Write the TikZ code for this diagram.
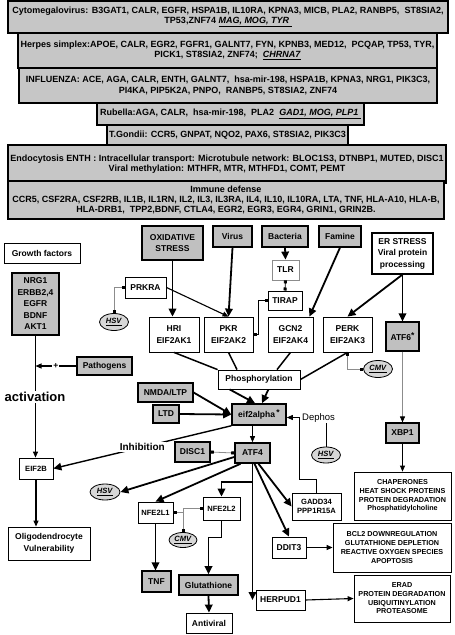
\documentclass[tikz,border=0pt]{standalone}
\usepackage{fontspec}
\setmainfont{Liberation Sans}
\usetikzlibrary{arrows.meta,shapes.geometric,calc}
\definecolor{topgray}{RGB}{198,198,198}
\definecolor{boxgray}{RGB}{192,192,192}
\definecolor{ellgray}{RGB}{215,215,215}
\definecolor{lgray}{RGB}{140,140,140}
\newcommand\ftop{\fontsize{9}{10.4}\selectfont\bfseries}
\newcommand\fmain{\fontsize{8.5}{11.5}\selectfont\bfseries}
\newcommand\fsmall{\fontsize{7.6}{9.5}\selectfont\bfseries}
\newcommand\flist{\fontsize{7.2}{8.7}\selectfont\bfseries}
\newcommand\uit[1]{\underline{\textit{#1}}}
\begin{document}
\begin{tikzpicture}[x=1pt,y=-1pt,
  topbox/.style={draw=black,line width=1.3pt,fill=topgray,align=center,inner sep=0pt,font=\ftop},
  gbox/.style={draw=black,line width=1pt,fill=boxgray,align=center,inner sep=0pt,font=\fmain},
  gboxb/.style={gbox,line width=1.2pt},
  gboxk/.style={gbox,line width=1.6pt},
  wbox/.style={draw=black,line width=0.8pt,fill=white,align=center,inner sep=0pt,font=\fmain},
  ell/.style={ellipse,draw=black,line width=0.8pt,fill=ellgray,inner sep=0pt,font=\fsmall},
  sz/.style 2 args={minimum width=#1pt,minimum height=#2pt},
  tarr/.style={line width=1.8pt,-{Triangle[length=8pt,width=7.5pt]}},
  narr/.style={line width=1.1pt,-{Triangle[length=6pt,width=5pt]}},
  garr/.style={line width=0.9pt,draw=lgray,-{Triangle[length=6pt,width=5pt,color=black]}},
  tline/.style={line width=1.5pt},
  sqb/.style={line width=0.8pt,{Square[length=3pt,width=3pt]}-{Square[length=3pt,width=3pt]}},
  sqg/.style={draw=lgray,line width=0.8pt,{Square[length=3pt,width=3pt,color=black]}-{Square[length=3pt,width=3pt,color=black]}},
]
\useasboundingbox (0,0) rectangle (455,635);
\fill[white] (0,0) rectangle (455,635);

% top boxes
\node[topbox,sz={440}{32}] (cmvtop) at (228,17) {Cytomegalovirus: B3GAT1, CALR, EGFR, HSPA1B, IL10RA, KPNA3, MICB, PLA2, RANBP5,\ \ ST8SIA2,\\TP53,ZNF74 \uit{MAG, MOG, TYR\ }};
\node[topbox,sz={419}{35}] (hsvtop) at (227.5,50.5) {Herpes simplex:APOE, CALR, EGR2, FGFR1, GALNT7, FYN, KPNB3, MED12,\ \ PCQAP, TP53, TYR,\\PICK1, ST8SIA2, ZNF74;\ \ \uit{CHRNA7}};
\node[topbox,sz={418}{35}] (flu) at (228,85.5) {INFLUENZA: ACE, AGA, CALR, ENTH, GALNT7,\ \ hsa-mir-198, HSPA1B, KPNA3, NRG1, PIK3C3,\\PI4KA, PIP5K2A, PNPO,\ \ RANBP5, ST8SIA2, ZNF74};
\node[topbox,sz={267}{22}] (rub) at (230.5,114) {Rubella:AGA, CALR,\ \ hsa-mir-198,\ \ PLA2\ \ \uit{GAD1, MOG, PLP1\ }};
\node[topbox,sz={241}{20}] (tg) at (227.5,135) {T.Gondii: CCR5, GNPAT, NQO2, PAX6, ST8SIA2, PIK3C3};
\node[topbox,sz={438}{38}] (endo) at (227,164) {Endocytosis ENTH : Intracellular transport: Microtubule network: BLOC1S3, DTNBP1, MUTED, DISC1\\Viral methylation: MTHFR, MTR, MTHFD1, COMT, PEMT};
\node[topbox,sz={436}{38}] (imm) at (226,200) {Immune defense\\CCR5, CSF2RA, CSF2RB, IL1B, IL1RN, IL2, IL3, IL3RA, IL4, IL10, IL10RA, LTA, TNF, HLA-A10, HLA-B,\\HLA-DRB1,\ \ TPP2,BDNF, CTLA4, EGR2, EGR3, EGR4, GRIN1, GRIN2B.};

% nodes
\node[wbox,sz={76}{20}] (gf) at (42,253) {Growth factors};
\node[gboxb,sz={47}{62}] (nrg) at (35.5,304) {NRG1\\ERBB2,4\\EGFR\\BDNF\\AKT1};
\node[gboxb,sz={61}{34}] (oxi) at (172.5,243) {OXIDATIVE\\STRESS};
\node[gboxb,sz={39}{21}] (virus) at (232.5,236.5) {Virus};
\node[gboxb,sz={46}{21}] (bact) at (285,236.5) {Bacteria};
\node[gboxb,sz={42}{21}] (famine) at (340,236.5) {Famine};
\node[wbox,line width=1.1pt,sz={61}{41}] (er) at (402.5,253.5) {ER STRESS\\Viral protein\\processing};
\node[wbox,draw=lgray,sz={27}{20}] (tlr) at (285.5,270) {TLR};
\node[wbox,line width=1pt,sz={34}{19}] (tirap) at (285,300.5) {TIRAP};
\node[wbox,line width=1pt,sz={41}{21}] (prkra) at (145.5,287.5) {PRKRA};
\node[ell,sz={29}{17}] (hsva) at (114,322) {\uit{HSV}};
\node[wbox,sz={50}{35}] (hri) at (174,334.5) {HRI\\EIF2AK1};
\node[wbox,sz={49}{35}] (pkr) at (228.5,334.5) {PKR\\EIF2AK2};
\node[wbox,sz={45}{35}] (gcn) at (290.5,334.5) {GCN2\\EIF2AK4};
\node[wbox,sz={49}{35}] (perk) at (347.5,334.5) {PERK\\EIF2AK3};
\node[gboxb,sz={33}{29}] (atf6) at (402.5,336.5) {ATF6\raisebox{2pt}{*}};
\node[ell,sz={29}{17}] (cmva) at (378,369) {\uit{CMV}};
\node[wbox,sz={82}{19}] (phos) at (259,379.5) {Phosphorylation};
\node[gboxb,sz={55}{18}] (path) at (104.5,366) {Pathogens};
\node[gboxb,sz={55}{19}] (nmda) at (165.5,392.5) {NMDA/LTP};
\node[gboxb,sz={26}{18}] (ltd) at (166,414) {LTD};
\node[gboxk,sz={54}{21}] (eif) at (259,414.5) {eif2alpha\,\raisebox{2pt}{*}};
\node[font=\fontsize{9.5}{11}\selectfont,inner sep=0pt,anchor=west] (deph) at (302,418) {Dephos};
\node[gboxb,sz={33}{20}] (xbp) at (402.5,433) {XBP1};
\node[ell,sz={29}{16}] (hsvb) at (326,455) {\uit{HSV}};
\node[wbox,sz={34}{21},font=\fsmall] (eif2b) at (36,468.5) {EIF2B};
\node[gboxk,sz={35}{20}] (disc) at (192.5,452) {DISC1};
\node[gboxk,sz={35}{20}] (atf4) at (252.5,453) {ATF4};
\node[wbox,sz={97}{48},font=\flist] (chap) at (402.5,496) {CHAPERONES\\HEAT SHOCK PROTEINS\\PROTEIN DEGRADATION\\Phosphatidylcholine};
\node[ell,sz={30}{16}] (hsvc) at (105,492) {\uit{HSV}};
\node[wbox,sz={49}{27},font=\fsmall] (gadd) at (316.5,506.5) {GADD34\\PPP1R15A};
\node[wbox,sz={37}{23},font=\fsmall] (nfe2) at (221.5,508.5) {NFE2L2};
\node[wbox,sz={35}{21},font=\fsmall] (nfe1) at (155.5,512.5) {NFE2L1};
\node[wbox,sz={118}{49},font=\flist] (bcl) at (392,547.5) {BCL2 DOWNREGULATION\\GLUTATHIONE DEPLETION\\REACTIVE OXYGEN SPECIES\\APOPTOSIS};
\node[wbox,sz={82}{33}] (oligo) at (49,543.5) {Oligodendrocyte\\Vulnerability};
\node[ell,sz={28}{15}] (cmvb) at (183,540) {\uit{CMV}};
\node[wbox,sz={34}{21}] (ddit) at (289,547.5) {DDIT3};
\node[gboxb,sz={29}{21}] (tnf) at (156.5,581.5) {TNF};
\node[gboxk,sz={59}{20}] (glut) at (208.5,585) {Glutathione};
\node[wbox,sz={96}{47},font=\flist] (erad) at (402,598.5) {ERAD\\PROTEIN DEGRADATION\\UBIQUITINYLATION\\PROTEASOME};
\node[wbox,sz={49}{20}] (herp) at (280.5,600) {HERPUD1};
\node[wbox,sz={46}{20}] (antiv) at (209,623) {Antiviral};

% connectors
\draw[tarr] (oxi.south) -- (oxi.south |- hri.north);
\draw[tarr] (virus.south) -- (pkr.north);
\draw[tarr] (bact.south) -- (tlr.north);
\draw[sqb] (tlr.south) -- (tirap.north);
\draw[sqb] (tirap.west) -| ([xshift=5pt]pkr.east) -- (pkr.east);
\draw[tarr] (famine.south) -- ([xshift=-4pt]gcn.north east);
\draw[tarr] (er.south) -- (perk.north);
\draw[tarr] (er.south) -- (er.south |- atf6.north);
\draw[narr] (prkra.east) -- (pkr.north);
\draw[sqg] (hsva.north) |- (prkra.west);
\draw[tline] (hri.south) -- (phos.north west);
\draw[tline] (pkr.south) -- ([xshift=-22pt]phos.north);
\draw[tline] (gcn.south) -- ([xshift=18pt]phos.north);
\draw[tline] (perk.south) -- (phos.east);
\draw[sqg] (perk.south) |- (cmva.west);
\draw[tarr] ([xshift=12pt]phos.south west) -- ([xshift=-4pt]eif.north);
\draw[tarr] ([xshift=-32pt]phos.south east) -- ([xshift=3pt]eif.north);
\draw[tarr] (nmda.east) -- (eif.west);
\draw[tarr] (ltd.east) -- (eif.west);
\draw[narr,line width=0.8pt] (eif.south -| atf4.north) -- (atf4.north);
\coordinate (dp) at (299,479);
\draw[narr,line width=0.8pt] (gadd.north) |- (dp) |- ([yshift=-3pt]eif.east);
\draw[line width=0.8pt] (hsvb.north) -- (hsvb.north |- deph.south);
\draw[garr] (atf6.south) -- (xbp.north);
\draw[narr,line width=0.8pt] (xbp.south) -- (chap.north);
\draw[tarr,line width=1.4pt] (eif.south west) -- node[fill=white,inner sep=1pt,font=\fontsize{10}{12}\selectfont\bfseries] (inh) {Inhibition} (eif2b.east);
\draw[narr] (nrg.south) -- (nrg.south |- eif2b.north);
\node[fill=white,inner sep=1pt,font=\fontsize{13}{15}\selectfont\bfseries] (act) at (35,397) {activation};
\draw[narr] (path.west) -- node[fill=white,inner sep=1pt,font=\fmain] (plus) {+} (nrg.south |- path.west);
\draw[narr] (eif2b.south) -- (eif2b.south |- oligo.north);
\draw[sqg] (disc.east) -- (atf4.west);
\draw[tarr] ([yshift=-4pt]atf4.west) -- (hsvc.east);
\draw[tarr] ([xshift=-12pt]atf4.south) -- (nfe1.north);
\draw[tarr] (atf4.south) -- ++(0,18) -| (nfe2.north);
\draw[tarr] (atf4.south) -- (atf4.south |- herp.west);
\draw[tarr] ([xshift=6pt]atf4.south) -- (gadd.west);
\draw[tarr] ([xshift=2pt]atf4.south) -- (ddit.north);
\draw[narr] (ddit.east) -- (bcl.west);
\draw[narr] (herp.east) -- (erad.west);
\draw[tarr] (nfe1.south) -- (nfe1.south |- tnf.north);
\coordinate (nj) at (183,508.5);
\draw[sqg] (nfe1.east) -| (nj) -- (nfe2.west);
\draw[draw=lgray,line width=0.8pt,-{Square[length=3pt,width=3pt,color=black]}] (nj) -- (cmvb.north);
\draw[tarr] (nfe2.south) -- ++(0,17) -| (glut.north);
\draw[tarr] (glut.south) -- (antiv.north);
\end{tikzpicture}
\end{document}
